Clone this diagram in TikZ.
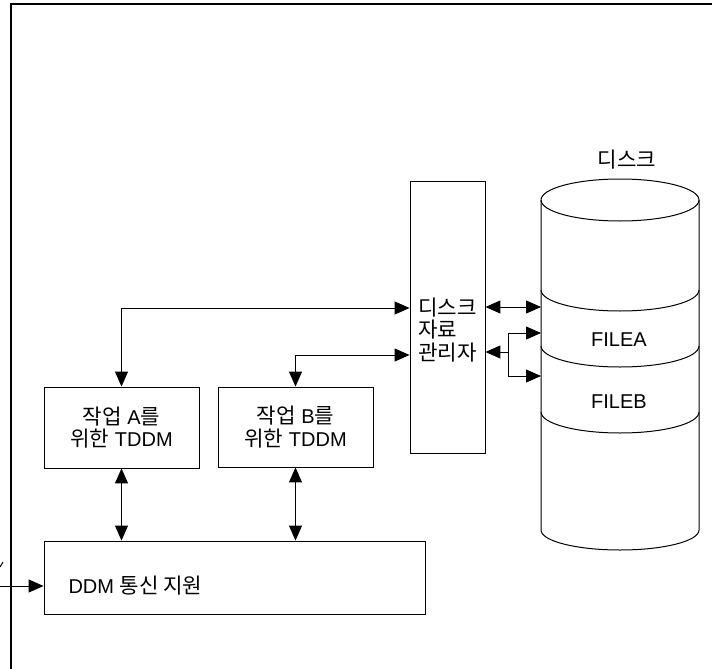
\documentclass[tikz,border=0pt]{standalone}
\usepackage{fontspec}
\setmainfont{Liberation Sans}
\newfontfamily\kr[Scale=1.06]{Noto Sans CJK KR}
\usetikzlibrary{arrows.meta}

\tikzset{
  box/.style={draw, line width=0.9pt, inner sep=0pt, align=center},
  lbl/.style={inner sep=0pt, align=left}
}

\begin{document}
\begin{tikzpicture}[x=1pt, y=1pt, line width=1pt, >={Triangle[length=15pt,width=13pt]},
    font=\fontsize{20}{22.5}\selectfont]
    \useasboundingbox (0,0) rectangle (712,-669);

    % 바깥 틀
    \draw[line width=1.6pt] (712,-4) -- (11,-4) -- (11,-669);
    \draw (0,-567) -- (3,-562);

    % 작업 상자, 통신 상자, 관리자 상자
    \node[box, minimum width=155pt, minimum height=81pt] (taskA) at (121.5,-427.5)
        {{\kr 작업} A{\kr 를}\\{\kr 위한} TDDM};
    \node[box, minimum width=155pt, minimum height=80pt] (taskB) at (295.5,-427)
        {{\kr 작업} B{\kr 를}\\{\kr 위한} TDDM};
    \node[box, minimum width=381pt, minimum height=73pt] (ddm) at (234.5,-577.5) {};
    \node[lbl, anchor=west] (ddmtxt) at (68,-586) {DDM {\kr 통신 지원}};
    \node[box, minimum width=75pt, minimum height=272pt] (mgr) at (447.5,-317) {};
    \node[lbl, font=\fontsize{20}{22.5}\selectfont\kr] (mgrtxt) at (447.5,-330) {디스크\\자료\\관리자};

    % 디스크 그리기
    \draw (541,-200) -- (541,-530) arc[start angle=180, end angle=360, x radius=79, y radius=20] -- (699,-200);
    \draw (620,-200) ellipse [x radius=79, y radius=21];
    \foreach \yy in {290,346,412}
        \draw (541,-\yy) arc[start angle=180, end angle=360, x radius=79, y radius=21];
    \node[lbl] (disklbl) at (627,-160) {\kr 디스크};
    \node[lbl] (filea) at (619,-340) {FILEA};
    \node[lbl] (fileb) at (619,-402) {FILEB};

    % 연결선
    \coordinate (d1) at (541,-307);
    \coordinate (d2) at (541,-333);
    \coordinate (d3) at (541,-376);
    \coordinate (jn) at (508,-352);
    \coordinate (src) at (0,-586);

    \draw[<->] (taskA.north) |- ([yshift=9pt]mgr.west);
    \draw[<->] (taskB.north) |- ([yshift=-38pt]mgr.west);
    \draw[<->] (taskA.south) -- (taskA.south |- ddm.north);
    \draw[<->] (taskB.south) -- (taskB.south |- ddm.north);
    \draw[<->] (mgr.east |- d1) -- (d1);
    \draw[->] (jn) -- (mgr.east |- jn);
    \draw[->] (jn) |- (d2);
    \draw[->] (jn) |- (d3);
    \draw[->] (src) -- (src -| ddm.west);
\end{tikzpicture}
\end{document}
